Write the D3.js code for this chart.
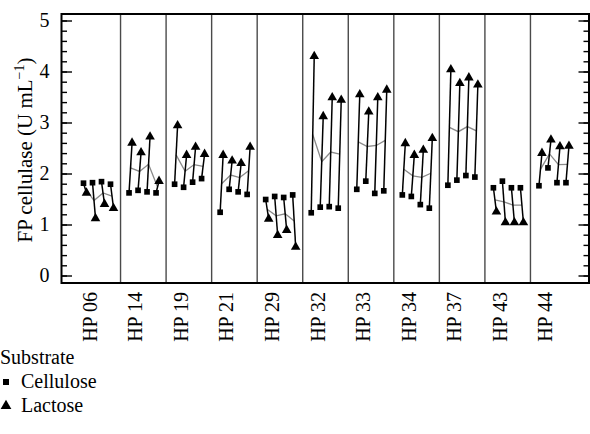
<!DOCTYPE html>
<html>
<head>
<meta charset="utf-8">
<script src="https://cdn.jsdelivr.net/npm/d3@7"></script>
<style>
  body { margin: 0; background: #fff; }
  svg { display: block; }
  text { font-family: "Liberation Serif", "DejaVu Serif", serif; }
</style>
</head>
<body>
<div id="chart"></div>
<script>
// strains on the x axis, four runs in each panel
const strains = ["HP 06", "HP 14", "HP 19", "HP 21", "HP 29", "HP 32", "HP 33", "HP 34", "HP 37", "HP 43", "HP 44"];
const runs = [0, 1, 2, 3];

// FP cellulase (U/mL)
const celluloseFP = [
  [1.81, 1.82, 1.84, 1.79],
  [1.62, 1.67, 1.64, 1.62],
  [1.79, 1.73, 1.83, 1.90],
  [1.24, 1.69, 1.64, 1.59],
  [1.49, 1.55, 1.53, 1.58],
  [1.23, 1.34, 1.35, 1.32],
  [1.69, 1.85, 1.61, 1.66],
  [1.58, 1.55, 1.39, 1.32],
  [1.77, 1.87, 1.96, 1.93],
  [1.72, 1.85, 1.72, 1.72],
  [1.76, 2.11, 1.82, 1.82]
];
const lactoseFP = [
  [1.62, 1.12, 1.40, 1.32],
  [2.60, 2.41, 2.72, 1.85],
  [2.94, 2.36, 2.52, 2.38],
  [2.36, 2.25, 2.20, 2.52],
  [1.11, 0.79, 0.89, 0.56],
  [4.30, 3.12, 3.49, 3.44],
  [3.55, 3.21, 3.49, 3.64],
  [2.59, 2.36, 2.46, 2.69],
  [4.04, 3.77, 3.88, 3.74],
  [1.25, 1.04, 1.04, 1.04],
  [2.40, 2.66, 2.53, 2.54]
];
const yTicks = [0, 1, 2, 3, 4, 5];
const legendItems = ["Cellulose", "Lactose"];

const width = 590, height = 434;
const frame = { left: 61.5, right: 589, top: 14, bottom: 283 };
const serif = "Liberation Serif, DejaVu Serif, serif";

const svg = d3.select("#chart").append("svg")
    .attr("width", width)
    .attr("height", height);

const y = d3.scaleLinear().domain([0, 5]).range([275.5, 20.5]);
const x = d3.scaleBand().domain(strains).range([75, 576]);
// position of each run inside its panel
const inner = d3.scalePoint().domain(runs).range([8.5, 35.5]);
const lacShift = 3;

// panel separators
svg.append("g")
  .selectAll("line")
  .data(strains.slice(1))
  .join("line")
    .attr("x1", d => x(d))
    .attr("x2", d => x(d))
    .attr("y1", frame.top)
    .attr("y2", frame.bottom)
    .attr("stroke", "#4a4a4a")
    .attr("stroke-width", 1.4);

// ticks on both sides, pointing in
const minor = d3.range(0, 5.001, 0.2);
const leftMinor = svg.append("g").attr("transform", `translate(${frame.left},0)`)
  .call(d3.axisLeft(y).tickValues(minor).tickSizeInner(-5.5).tickSizeOuter(0).tickFormat(""));
const leftMajor = svg.append("g").attr("transform", `translate(${frame.left},0)`)
  .call(d3.axisLeft(y).tickValues(yTicks).tickSizeInner(-10.5).tickSizeOuter(0).tickPadding(12).tickFormat(d3.format("d")));
const rightMinor = svg.append("g").attr("transform", `translate(${frame.right},0)`)
  .call(d3.axisRight(y).tickValues(minor).tickSizeInner(-5.5).tickSizeOuter(0).tickFormat(""));
const rightMajor = svg.append("g").attr("transform", `translate(${frame.right},0)`)
  .call(d3.axisRight(y).tickValues(yTicks).tickSizeInner(-10.5).tickSizeOuter(0).tickFormat(""));

[leftMinor, leftMajor, rightMinor, rightMajor].forEach(g => {
  g.attr("font-family", serif);
  g.select(".domain").remove();
  g.selectAll(".tick line").attr("stroke", "#000").attr("stroke-width", 1.4);
});
leftMajor.selectAll(".tick text")
  .attr("font-size", 20)
  .attr("font-family", serif)
  .attr("fill", "#000");

// frame
svg.append("rect")
    .attr("x", frame.left)
    .attr("y", frame.top)
    .attr("width", frame.right - frame.left)
    .attr("height", frame.bottom - frame.top)
    .attr("fill", "none")
    .attr("stroke", "#000")
    .attr("stroke-width", 2);

// y title
const yTitle = svg.append("text")
    .attr("transform", "translate(32,150) rotate(-90)")
    .attr("text-anchor", "middle")
    .attr("font-family", serif)
    .attr("font-size", 21)
    .attr("fill", "#000");
yTitle.append("tspan").text("FP cellulase (U mL");
yTitle.append("tspan").attr("dy", -8).attr("font-size", 14).text("\u22121");
yTitle.append("tspan").attr("dy", 8).text(")");

// x labels
svg.append("g")
  .selectAll("text")
  .data(strains)
  .join("text")
    .attr("transform", d => `translate(${x(d) + x.bandwidth() / 2 - 1},292) rotate(-90)`)
    .attr("text-anchor", "end")
    .attr("font-family", serif)
    .attr("font-size", 20)
    .attr("fill", "#000")
    .text(d => d);

// one row per run: square, triangle, mean
const points = strains.flatMap((s, i) => runs.map(r => ({
  strain: s,
  run: r,
  xc: x(s) + inner(r),
  cel: celluloseFP[i][r],
  lac: lactoseFP[i][r]
})));

const sq = d3.symbol().type(d3.symbolSquare).size(32);
const tri = d3.symbol().type(d3.symbolTriangle).size(40);

// mean line (gray) inside each panel
const meanLine = d3.line()
    .x(d => d.xc + lacShift / 2)
    .y(d => y((d.cel + d.lac) / 2));
svg.append("g")
  .selectAll("path")
  .data(d3.groups(points, d => d.strain))
  .join("path")
    .attr("d", d => meanLine(d[1]))
    .attr("fill", "none")
    .attr("stroke", "#8a8a8a")
    .attr("stroke-width", 1.3);

// cellulose -> lactose segments
svg.append("g")
  .selectAll("line")
  .data(points)
  .join("line")
    .attr("x1", d => d.xc)
    .attr("y1", d => y(d.cel))
    .attr("x2", d => d.xc + lacShift)
    .attr("y2", d => y(d.lac))
    .attr("stroke", "#000")
    .attr("stroke-width", 1.5);

svg.append("g")
  .selectAll("path")
  .data(points)
  .join("path")
    .attr("transform", d => `translate(${d.xc},${y(d.cel)})`)
    .attr("d", sq)
    .attr("fill", "#000");

svg.append("g")
  .selectAll("path")
  .data(points)
  .join("path")
    .attr("transform", d => `translate(${d.xc + lacShift},${y(d.lac)})`)
    .attr("d", tri)
    .attr("fill", "#000");

// legend
const legend = svg.append("g").attr("transform", "translate(0,364)");
legend.append("text")
    .attr("x", 0)
    .attr("y", 0)
    .attr("font-family", serif)
    .attr("font-size", 20)
    .attr("fill", "#000")
    .text("Substrate");
const items = legend.selectAll("g.item")
  .data(legendItems)
  .join("g")
    .attr("class", "item")
    .attr("transform", (d, i) => `translate(0,${24 * (i + 1)})`);
items.append("path")
    .attr("transform", "translate(6,-6)")
    .attr("d", (d, i) => i === 0 ? d3.symbol().type(d3.symbolSquare).size(36)() : d3.symbol().type(d3.symbolTriangle).size(50)())
    .attr("fill", "#000");
items.append("text")
    .attr("x", 21)
    .attr("y", 0)
    .attr("font-family", serif)
    .attr("font-size", 20)
    .attr("fill", "#000")
    .text(d => d);
</script>
</body>
</html>
